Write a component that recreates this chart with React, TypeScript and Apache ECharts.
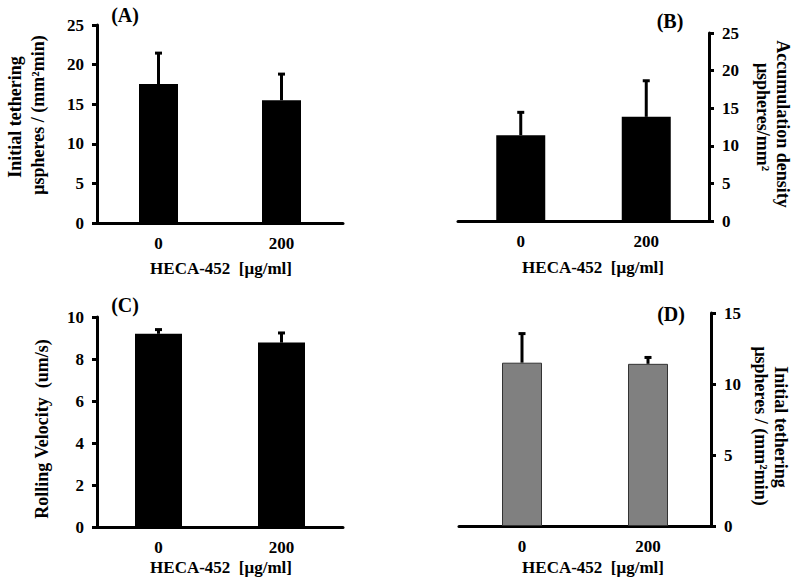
import React, { useEffect, useRef } from "react";
import * as echarts from "echarts";

const categories = ["0", "200"];
// Panel A: initial tethering
const tetherMeanA = [17.55, 15.5];
const tetherSdA = [3.9, 3.3];
// Panel B: accumulation density
const accumMeanB = [11.4, 13.85];
const accumSdB = [3.05, 4.8];
// Panel C: rolling velocity
const velMeanC = [9.2, 8.78];
const velSdC = [0.2, 0.46];
// Panel D: initial tethering
const tetherMeanD = [11.5, 11.42];
const tetherSdD = [2.05, 0.45];

const FONT = "Liberation Serif";
const txt = { fontFamily: FONT, fontWeight: "bold" as const, color: "#000" };

function errData(mean: number[], sd: number[]) {
  return mean.map((m, i) => [i, m, m + sd[i]]);
}

const renderErr = (params: any, api: any) => {
  const x = api.value(0);
  const v = api.value(1);
  const e = api.value(2);
  const p0 = api.coord([x, v]);
  const p1 = api.coord([x, e]);
  return {
    type: "group",
    children: [
      { type: "line", shape: { x1: p0[0], y1: p0[1], x2: p1[0], y2: p1[1] }, style: { stroke: "#000", lineWidth: 3 } },
      { type: "line", shape: { x1: p1[0] - 3.5, y1: p1[1], x2: p1[0] + 3.5, y2: p1[1] }, style: { stroke: "#000", lineWidth: 3 } },
    ],
  };
};

export default function App() {
  const ref = useRef<HTMLDivElement>(null);
  useEffect(() => {
    document.body.style.margin = "0";
    const chart = echarts.init(ref.current!, null, { renderer: "svg" });
    const grids = [
      { left: 97, top: 25, width: 246, height: 198 },
      { left: 458, top: 33, width: 251, height: 188 },
      { left: 97, top: 317, width: 246, height: 210 },
      { left: 459, top: 313, width: 252, height: 213 },
    ];
    const yCfg = [
      { max: 25, interval: 5, pos: "left" },
      { max: 25, interval: 5, pos: "right" },
      { max: 10, interval: 2, pos: "left" },
      { max: 15, interval: 5, pos: "right" },
    ];
    const means = [tetherMeanA, accumMeanB, velMeanC, tetherMeanD];
    const sds = [tetherSdA, accumSdB, velSdC, tetherSdD];
    const barWidths = [39, 49, 47, 40];
    const axisLine = { lineStyle: { color: "#000", width: 3 } };
    const axisTick = { length: 5, lineStyle: { color: "#000", width: 3 } };

    const xAxis = grids.map((_, i) => ({
      type: "category",
      gridIndex: i,
      data: categories,
      boundaryGap: true,
      axisLine,
      axisTick: { ...axisTick, alignWithLabel: false },
      axisLabel: { ...txt, fontSize: 17, margin: 12 },
    }));
    const yAxis = yCfg.map((c, i) => ({
      type: "value",
      gridIndex: i,
      position: c.pos,
      min: 0,
      max: c.max,
      interval: c.interval,
      splitLine: { show: false },
      axisLine: { show: true, ...axisLine },
      axisTick: { show: true, ...axisTick },
      axisLabel: { ...txt, fontSize: 17, margin: 13 },
    }));
    const series: any[] = [];
    means.forEach((m, i) => {
      series.push({
        type: "bar",
        xAxisIndex: i,
        yAxisIndex: i,
        data: m,
        barWidth: barWidths[i],
        itemStyle:
          i === 3
            ? { color: "#808080", borderColor: "#333", borderWidth: 1 }
            : { color: "#000" },
        z: 2,
      });
      series.push({
        type: "custom",
        xAxisIndex: i,
        yAxisIndex: i,
        data: errData(m, sds[i]),
        encode: { x: 0, y: 1 },
        renderItem: renderErr,
        z: 1,
      });
    });

    const t = (text: string, x: number, y: number, size: number, rotation = 0) => ({
      type: "text",
      x,
      y,
      rotation,
      style: {
        text,
        fontFamily: FONT,
        fontWeight: "bold",
        fontSize: size,
        fill: "#000",
        align: "center",
        verticalAlign: "middle",
      },
    });
    const R = Math.PI / 2;
    const graphic = [
      t("(A)", 125, 15, 20),
      t("(B)", 670, 21, 20),
      t("(C)", 125, 305, 20),
      t("(D)", 671, 314, 20),
      t("HECA-452  [\u03bcg/ml]", 221, 268, 17),
      t("HECA-452  [\u03bcg/ml]", 593, 267, 17),
      t("HECA-452  [\u03bcg/ml]", 221, 567, 17),
      t("HECA-452  [\u03bcg/ml]", 593, 567, 17),
      t("Initial tethering", 15, 117, 18, R),
      t("\u03bcspheres / (mm\u00b2min)", 38, 115, 18, R),
      t("Accumulation density", 783, 124, 18, -R),
      t("\u03bcspheres/mm\u00b2", 763, 117, 18, -R),
      t("Rolling Velocity  (um/s)", 42, 429, 18, R),
      t("Initial tethering", 781, 427, 18, -R),
      t("\u03bcspheres / (mm\u00b2min)", 761, 426, 18, -R),
    ];

    chart.setOption({
      animation: false,
      backgroundColor: "#fff",
      grid: grids.map((g) => ({ ...g, containLabel: false })),
      xAxis,
      yAxis,
      series,
      graphic,
    });
    return () => chart.dispose();
  }, []);
  return <div ref={ref} style={{ width: 800, height: 580 }} />;
}
